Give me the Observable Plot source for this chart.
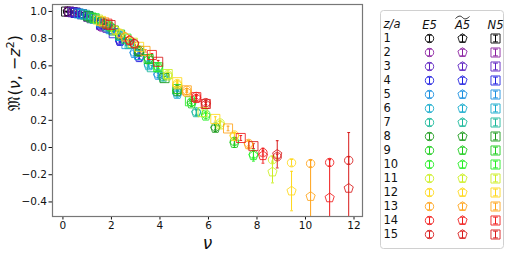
<!DOCTYPE html>
<html><head><meta charset="utf-8">
<script src="https://cdn.jsdelivr.net/npm/d3@7"></script>
<script src="https://cdn.jsdelivr.net/npm/@observablehq/plot@0.6"></script>
<style>
body{margin:0;background:#fff;}
#wrap{position:relative;width:507px;height:253px;font-family:"DejaVu Sans",sans-serif;}
#wrap svg{position:absolute;top:0;}
</style></head><body><div id="wrap"></div>
<script>
// ---- data ----
const zList = [1,2,3,4,5,6,7,8,9,10,11,12,13,14,15];
const zColors = ["#000000","#8a1fa0","#5a1fc0","#2020e0","#1a8fe0","#14aacc","#1ab89a","#1a9a1a","#1acc1a","#22ee22","#ccee22","#ffd81a","#ffa31a","#f01a1a","#d81a1a"];
const ensembles = ["E5","A5","N5"];
// lattice momenta (E5 and A5 share the same volume)
const pE5 = [0.1963, 0.3927, 0.5890, 0.7854];
const pN5 = [0.1309, 0.2618, 0.3927, 0.5236];
// values per z (rows) and momentum n=1..4 (columns)
const e5Values = [
 [0.998,0.995,0.990,0.985],[0.995,0.980,0.955,0.885],[0.990,0.955,0.880,0.790],[0.982,0.915,0.785,0.665],
 [0.972,0.870,0.700,0.540],[0.960,0.820,0.610,0.400],[0.945,0.765,0.520,0.262],[0.930,0.710,0.425,0.150],
 [0.910,0.655,0.335,0.045],[0.890,0.595,0.245,-0.050],[0.865,0.535,0.180,-0.090],[0.840,0.470,0.092,-0.112],
 [0.815,0.420,0.030,-0.118],[0.790,0.375,-0.038,-0.110],[0.765,0.330,-0.068,-0.095]];
const e5Errors = [
 [0.002,0.003,0.004,0.005],[0.003,0.004,0.006,0.008],[0.003,0.005,0.008,0.010],[0.004,0.006,0.010,0.012],
 [0.004,0.007,0.011,0.014],[0.005,0.008,0.012,0.016],[0.005,0.009,0.013,0.018],[0.006,0.010,0.014,0.020],
 [0.006,0.011,0.015,0.020],[0.007,0.012,0.016,0.022],[0.007,0.012,0.016,0.022],[0.008,0.013,0.017,0.024],
 [0.008,0.013,0.018,0.024],[0.009,0.014,0.018,0.025],[0.009,0.014,0.019,0.026]];
const a5Values = [
 [0.998,0.994,0.988,0.982],[0.994,0.978,0.950,0.890],[0.989,0.952,0.875,0.780],[0.980,0.910,0.780,0.660],
 [0.970,0.865,0.690,0.530],[0.957,0.815,0.600,0.390],[0.940,0.760,0.510,0.255],[0.925,0.700,0.410,0.140],
 [0.905,0.645,0.320,0.030],[0.885,0.585,0.230,-0.060],[0.860,0.525,0.165,-0.180],[0.835,0.460,0.080,-0.320],
 [0.810,0.405,0.020,-0.360],[0.785,0.360,-0.060,-0.370],[0.760,0.315,-0.050,-0.300]];
const a5Errors = [
 [0.002,0.004,0.005,0.006],[0.003,0.005,0.007,0.009],[0.004,0.006,0.009,0.012],[0.004,0.007,0.011,0.014],
 [0.005,0.008,0.012,0.016],[0.005,0.009,0.014,0.018],[0.006,0.010,0.015,0.020],[0.006,0.011,0.016,0.022],
 [0.007,0.012,0.018,0.030],[0.007,0.013,0.020,0.040],[0.008,0.014,0.022,0.080],[0.008,0.015,0.025,0.145],
 [0.009,0.016,0.030,0.270],[0.009,0.017,0.055,0.280],[0.010,0.018,0.100,0.410]];
const n5Values = [
 [0.999,0.998,0.995,0.990],[0.998,0.990,0.980,0.960],[0.995,0.980,0.950,0.900],[0.990,0.965,0.910,0.840],
 [0.985,0.945,0.870,0.760],[0.980,0.920,0.820,0.680],[0.975,0.890,0.760,0.590],[0.965,0.860,0.710,0.510],
 [0.955,0.830,0.650,0.430],[0.950,0.800,0.590,0.340],[0.940,0.770,0.540,0.260],[0.930,0.740,0.480,0.210],
 [0.920,0.710,0.420,0.140],[0.910,0.680,0.370,0.070],[0.900,0.630,0.320,0.010]];
const n5Errors = [
 [0.002,0.003,0.004,0.005],[0.002,0.003,0.005,0.006],[0.003,0.004,0.006,0.008],[0.003,0.005,0.007,0.009],
 [0.003,0.005,0.008,0.010],[0.004,0.006,0.009,0.011],[0.004,0.006,0.010,0.012],[0.004,0.007,0.010,0.013],
 [0.005,0.007,0.011,0.014],[0.005,0.008,0.011,0.015],[0.005,0.008,0.012,0.016],[0.006,0.009,0.012,0.016],
 [0.006,0.009,0.013,0.017],[0.006,0.010,0.013,0.018],[0.007,0.010,0.014,0.018]];
const xTicks = [0,2,4,6,8,10,12];
const yTicks = [-0.4,-0.2,0,0.2,0.4,0.6,0.8,1.0];
const yLabel = "𝔐(ν, −z²)";
const xLabel = "ν";

// ---- build table ----
function rows(ens, p, vals, errs){
  const out=[];
  zList.forEach((z,i)=>p.forEach((pp,j)=>out.push({ens, z, nu: pp*z, v: vals[i][j], e: errs[i][j]})));
  return out;
}
const data = [...rows("E5",pE5,e5Values,e5Errors), ...rows("A5",pE5,a5Values,a5Errors), ...rows("N5",pN5,n5Values,n5Errors)]
  .sort((a,b)=>a.z-b.z);

// ---- symbols ----
const R = s => Math.sqrt(s/Math.PI);
const circleSym = {draw(c,s){const r=R(s); c.moveTo(r,0); c.arc(0,0,r,0,2*Math.PI);}};
const squareSym = {draw(c,s){const r=R(s)*1.08; c.rect(-r,-r,2*r,2*r);}};
const pentSym = {draw(c,s){const r=R(s)*1.15; for(let i=0;i<5;i++){const a=-Math.PI/2+i*2*Math.PI/5; const x=r*Math.cos(a), y=r*Math.sin(a); i?c.lineTo(x,y):c.moveTo(x,y);} c.closePath();}};
const capSym = {draw(c,s){const r=R(s); c.moveTo(-r,0); c.lineTo(r,0);}};
const errSym = {draw(c,s){const r=R(s), w=2.4; c.moveTo(0,-r); c.lineTo(0,r); c.moveTo(-w,-r); c.lineTo(w,-r); c.moveTo(-w,r); c.lineTo(w,r);}};
const tildeSym = {draw(c,s){const r=R(s); c.moveTo(-r,1); c.bezierCurveTo(-r*0.5,-2.5,-r*0.2,-1.5,0,0); c.bezierCurveTo(r*0.2,1.5,r*0.5,2.5,r,-1);}};

const colorScale = {type:"ordinal", domain: zList, range: zColors};
const symbolScale = {domain: ensembles, range: [circleSym, pentSym, squareSym]};

const main = Plot.plot({
  width: 507, height: 253,
  marginLeft: 52, marginRight: 145, marginTop: 4, marginBottom: 37,
  style: {fontFamily: "DejaVu Sans", fontSize: "10.5px", color: "#111", background: "transparent"},
  x: {domain: [-0.43, 12.35], ticks: xTicks, tickSize: 3.5, tickPadding: 2, label: null, tickFormat: d3.format("d")},
  y: {domain: [-0.507, 1.051], ticks: yTicks, tickSize: 3.5, tickPadding: 2, label: null, tickFormat: d3.format(".1f")},
  color: colorScale,
  symbol: symbolScale,
  marks: [
    Plot.ruleX(data, {x: "nu", y1: d=>d.v-d.e, y2: d=>d.v+d.e, stroke: "z", strokeWidth: 1, clip: true}),
    Plot.dot(data, {x: "nu", y: d=>d.v-d.e, symbol: () => capSym, r: 1.4, stroke: "z", strokeWidth: 1, clip: true}),
    Plot.dot(data, {x: "nu", y: d=>d.v+d.e, symbol: () => capSym, r: 1.4, stroke: "z", strokeWidth: 1, clip: true}),
    Plot.dot(data, {x: "nu", y: "v", symbol: "ens", r: 4.2, stroke: "z", fill: "none", strokeWidth: 1, strokeOpacity: 0.85}),
    Plot.frame({stroke: "#777", strokeWidth: 1.2}),
    Plot.text([yLabel], {frameAnchor: "left", text: d=>d, rotate: -90, dx: -38, fontSize: 16, fill: "#111"}),
    Plot.text([xLabel], {frameAnchor: "bottom", text: d=>d, dy: 32, fontSize: 17, fontStyle: "italic", fill: "#111"})
  ]
});
main.style.left = "0px";
// mixed italic in the y label
d3.select(main).selectAll("text").filter(function(){return this.textContent === yLabel;}).each(function(){
  const t = d3.select(this); t.text("");
  t.append("tspan").text("𝔐(");
  t.append("tspan").attr("font-style","italic").text("ν");
  t.append("tspan").text(", −");
  t.append("tspan").attr("font-style","italic").text("z");
  t.append("tspan").attr("font-size","11").attr("dy","-6").text("2");
  t.append("tspan").attr("dy","6").text(")");
});
document.getElementById("wrap").appendChild(main);

// ---- legend table ----
const legendRows = ["hdr", ...zList.map(String)];
const legendData = [];
zList.forEach(z => ensembles.forEach(ens => legendData.push({z, ens})));
const headers = ["E5","A5","N5"];
const legend = Plot.plot({
  width: 130, height: 253,
  marginLeft: 51, marginRight: 12, marginTop: 18, marginBottom: 14,
  style: {fontFamily: "DejaVu Sans", fontSize: "11.5px", color: "#111", background: "transparent"},
  x: {type: "point", domain: ensembles, padding: 0, axis: null},
  y: {type: "point", domain: legendRows, padding: 0, axis: null},
  color: colorScale,
  symbol: symbolScale,
  marks: [
    Plot.frame({stroke: "#d0d0d0", rx: 3, insetTop: -8, insetBottom: -9, insetLeft: -48, insetRight: -8}),
    Plot.text(["z/a"], {y: () => "hdr", frameAnchor: "left", dx: -45, textAnchor: "start", text: d=>d, fontStyle: "italic"}),
    Plot.text(headers, {x: d=>d, y: () => "hdr", text: d=>d, fontStyle: "italic", dy: 1}),
    Plot.dot(["A5"], {x: d=>d, y: () => "hdr", symbol: () => tildeSym, r: 7, dy: -7, stroke: "#111", strokeWidth: 0.9}),
    Plot.text(zList, {y: d=>String(d), frameAnchor: "left", dx: -45, textAnchor: "start", text: d=>String(d)}),
    Plot.dot(legendData, {x: "ens", y: d=>String(d.z), symbol: () => errSym, r: 3.4, stroke: "z", strokeWidth: 1}),
    Plot.dot(legendData, {x: "ens", y: d=>String(d.z), symbol: "ens", r: 4.2, stroke: "z", fill: "none", strokeWidth: 1, strokeOpacity: 0.85})
  ]
});
legend.style.left = "377px";
document.getElementById("wrap").appendChild(legend);
</script>
</body></html>
